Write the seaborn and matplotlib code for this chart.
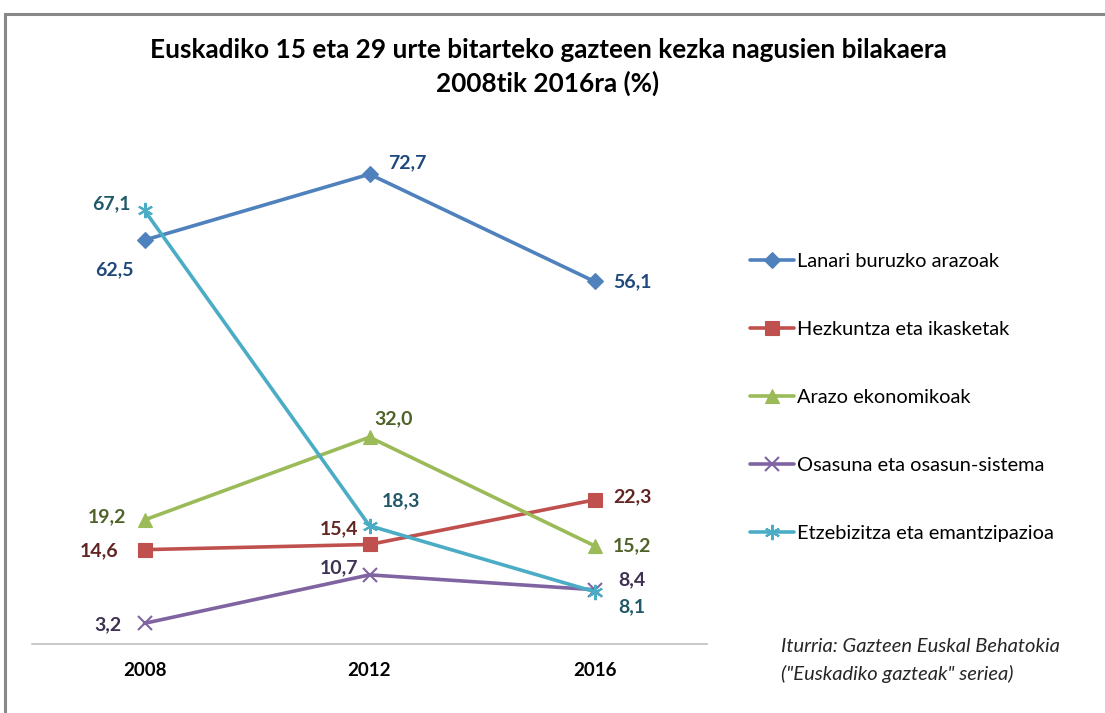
import numpy as np
import pandas as pd
import matplotlib
matplotlib.use("Agg")
import matplotlib.pyplot as plt
import seaborn as sns
from matplotlib.patches import Rectangle

years = ["2008", "2012", "2016"]
series_names = [
    "Lanari buruzko arazoak",
    "Hezkuntza eta ikasketak",
    "Arazo ekonomikoak",
    "Osasuna eta osasun-sistema",
    "Etzebizitza eta emantzipazioa",
]
lanari = [62.5, 72.7, 56.1]
hezkuntza = [14.6, 15.4, 22.3]
arazo = [19.2, 32.0, 15.2]
osasuna = [3.2, 10.7, 8.4]
etxe = [67.1, 18.3, 8.1]

title = "Euskadiko 15 eta 29 urte bitarteko gazteen kezka nagusien bilakaera\n2008tik 2016ra (%)"
source = 'Iturria: Gazteen Euskal Behatokia\n("Euskadiko gazteak" seriea)'

line_colors = ["#4F81BD", "#C0504D", "#9BBB59", "#8064A2", "#4BACC6"]
label_colors = ["#1F497D", "#632523", "#4F6228", "#3F3151", "#215968"]
markers = ["D", "s", "^", "x", (6, 2, 0)]
marker_sizes = [8, 10, 10, 10, 11]

values = [lanari, hezkuntza, arazo, osasuna, etxe]

sns.set_theme(style="white")
plt.rcParams["font.family"] = ["Lato", "DejaVu Sans"]

rows = []
for name, vals in zip(series_names, values):
    for i, v in enumerate(vals):
        rows.append({"x": i, "value": v, "series": name})
df = pd.DataFrame(rows)

fig = plt.figure(figsize=(11.05, 7.13), dpi=100)
W, H = 1105, 713
ax = fig.add_axes([32 / W, 1 - 644 / H, 675 / W, (644 - 127) / H])

for k, name in enumerate(series_names):
    sub = df[df["series"] == name]
    sns.lineplot(data=sub, x="x", y="value", ax=ax, color=line_colors[k],
                 lw=2.6, marker=markers[k], markersize=marker_sizes[k],
                 markeredgecolor=line_colors[k], markeredgewidth=1.5 if k >= 3 else 0.8,
                 label=name, legend=False)

ax.set_xlim(-0.5, 2.5)
ax.set_ylim(0, 80)
ax.set_yticks([])
ax.set_xticks(range(len(years)))
ax.set_xticklabels(years, fontsize=13.5, fontweight="bold", color="black")
ax.tick_params(axis="x", length=0, pad=13)
ax.set_xlabel("")
ax.set_ylabel("")
for s in ["top", "right", "left"]:
    ax.spines[s].set_visible(False)
ax.spines["bottom"].set_color("#BFBFBF")
ax.spines["bottom"].set_linewidth(1.2)
ax.patch.set_alpha(0)

# label offsets in points (dx, dy)
offsets = {
    0: [(-22, -21), (27, 8), (27, 0)],
    1: [(-33, -1), (-22, 11), (27, 2)],
    2: [(-27, 2), (17, 13), (27, 0)],
    3: [(-26, -1), (-22, 5), (27, 7)],
    4: [(-24, 5), (23, 18), (27, -11)],
}
for k, vals in enumerate(values):
    for i, v in enumerate(vals):
        dx, dy = offsets[k][i]
        ax.annotate(f"{v:.1f}".replace(".", ","), (i, v), xytext=(dx, dy),
                    textcoords="offset points", ha="center", va="center",
                    fontsize=14, fontweight="bold", color=label_colors[k])

handles, labels = ax.get_legend_handles_labels()
fig.legend(handles, labels, loc="upper left", bbox_to_anchor=(732 / W, 1 - 235 / H),
           frameon=False, fontsize=14.4, labelspacing=2.55, handlelength=2.2,
           handletextpad=0.15, labelcolor="black")

fig.text(548 / W, 1 - 50 / H, title.split("\n")[0], ha="center", va="center",
         fontsize=18.8, fontweight="bold", color="black")
fig.text(548 / W, 1 - 83 / H, title.split("\n")[1], ha="center", va="center",
         fontsize=18.8, fontweight="bold", color="black")

fig.text(781 / W, 1 - 647 / H, source.split("\n")[0], ha="left", va="center",
         fontsize=14.5, style="italic", color="#262626")
fig.text(781 / W, 1 - 674 / H, source.split("\n")[1], ha="left", va="center",
         fontsize=14.5, style="italic", color="#262626")

fig.patches.append(Rectangle((5 / W, -0.1), 1.2, (1 - 14 / H) + 0.1, transform=fig.transFigure,
                             fill=False, edgecolor="#888888", lw=2.2))

fig.savefig("out.png", dpi=100, facecolor="white")
